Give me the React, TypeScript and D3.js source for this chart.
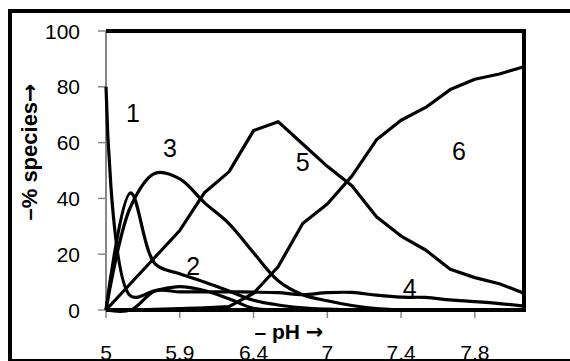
import React from "react";
import * as d3 from "d3";

// category index 0..17 (pH steps); labels shown every 3rd category
const categoryIdx = d3.range(18);
const xTickIdx = [0, 3, 6, 9, 12, 15];
const xTickLabels = ["5", "5.9", "6.4", "7", "7.4", "7.8"];
const yTicks = [0, 20, 40, 60, 80, 100];

const s1 = [80, 5, 7, 8.4, 7, 4, 0.6, 0.1, 0, 0, 0, 0, 0, 0, 0, 0, 0, 0];
const s2 = [0, 42, 16.5, 13, 10, 6.8, 3.5, 1.8, 0.8, 0.3, 0, 0, 0, 0, 0, 0, 0, 0];
const s3 = [0, 37, 49, 47, 38.5, 31, 20.5, 10.5, 5.5, 3.3, 1.6, 0.5, 0, 0, 0, 0, 0, 0];
const s4 = [0, 0, 6.8, 6.5, 6.5, 6.5, 6.4, 6.2, 5.5, 6.2, 6.3, 5.3, 4.6, 4.5, 3.6, 3, 2.3, 1.4];
const s5 = [0, 9.5, 19, 28.5, 42, 49.5, 64.3, 67.5, 59.5, 51.5, 44.5, 33.4, 26.5, 21.5, 14.6, 11.6, 9.4, 6];
const s6 = [0, 0, 0.2, 0.5, 0.8, 1.2, 6, 15.5, 31, 38, 48, 61, 68, 72.6, 79, 82.7, 84.6, 87.2];

const seriesList = [
  { name: "1", values: s1, smooth: true },
  { name: "2", values: s2, smooth: true },
  { name: "3", values: s3, smooth: true },
  { name: "4", values: s4, smooth: true },
  { name: "5", values: s5, smooth: false },
  { name: "6", values: s6, smooth: false },
];

// curve number labels: [text, category position, value at baseline]
const curveLabels: [string, number, number][] = [
  ["1", 1.1, 67.4],
  ["3", 2.6, 54.8],
  ["5", 8.0, 49.9],
  ["6", 14.35, 53.8],
  ["2", 3.55, 12.5],
  ["4", 12.35, 4.8],
];

const W = 570;
const H = 361;
const plot = { left: 106, right: 524, top: 31, bottom: 310 };
const FONT = "'Liberation Sans', Arial, sans-serif";
const ARROW_FONT = "'DejaVu Sans', sans-serif";

export default function App() {
  const x = d3.scaleLinear().domain([0, 17]).range([plot.left, plot.right]);
  const y = d3.scaleLinear().domain([0, 100]).range([plot.bottom, plot.top]);

  const makeLine = (smooth: boolean) =>
    d3
      .line<number>()
      .x((_, i) => x(categoryIdx[i]))
      .y((v) => y(v))
      .curve(smooth ? d3.curveCatmullRom.alpha(0.5) : d3.curveLinear);

  return (
    <svg
      width={W}
      height={H}
      style={{ position: "absolute", left: 0, top: 0, background: "#fff", overflow: "hidden" }}
      fontFamily={FONT}
    >
      <rect x={0} y={0} width={W} height={H} fill="#fff" />
      {/* outer chart border */}
      <rect x={10} y={11} width={600} height={350} fill="none" stroke="#000" strokeWidth={4} />

      {/* y ticks */}
      {yTicks.map((t) => (
        <g key={t}>
          <line x1={plot.left - 8} x2={plot.left} y1={y(t)} y2={y(t)} stroke="#888" strokeWidth={1.5} />
          <text x={80} y={y(t)} dy="0.36em" textAnchor="end" fontSize={21} fill="#000">
            {t}
          </text>
        </g>
      ))}

      {/* x ticks */}
      {xTickIdx.map((c, i) => (
        <g key={c}>
          <line x1={x(c)} x2={x(c)} y1={plot.bottom} y2={plot.bottom + 8} stroke="#888" strokeWidth={1.5} />
          <text x={x(c)} y={360} textAnchor="middle" fontSize={21} fill="#000">
            {xTickLabels[i]}
          </text>
        </g>
      ))}

      {/* left axis line */}
      <line x1={plot.left} x2={plot.left} y1={plot.top} y2={plot.bottom} stroke="#888" strokeWidth={2} />

      {/* series */}
      {seriesList.map((s) => (
        <path
          key={s.name}
          d={makeLine(s.smooth)(s.values) || ""}
          fill="none"
          stroke="#000"
          strokeWidth={3.2}
          strokeLinejoin="round"
        />
      ))}

      {/* plot frame: top, right, bottom */}
      <path
        d={`M${plot.left},${plot.top}H${plot.right}V${plot.bottom}`}
        fill="none"
        stroke="#000"
        strokeWidth={4}
      />
      <line x1={plot.left} x2={plot.right + 2} y1={plot.bottom} y2={plot.bottom} stroke="#000" strokeWidth={4} />

      {/* curve labels */}
      {curveLabels.map(([t, cx, v]) => (
        <text key={t} x={x(cx)} y={y(v)} textAnchor="middle" fontSize={25} fill="#000">
          {t}
        </text>
      ))}

      {/* axis titles */}
      <text x={289} y={339} textAnchor="middle" fontSize={21} fontWeight="bold" fill="#000">
        – pH <tspan fontFamily={ARROW_FONT}>→</tspan>
      </text>
      <text
        transform={`translate(37,152) rotate(-90)`}
        textAnchor="middle"
        fontSize={22}
        fontWeight="bold"
        fill="#000"
      >
        –% species<tspan fontFamily={ARROW_FONT}>→</tspan>
      </text>
    </svg>
  );
}
